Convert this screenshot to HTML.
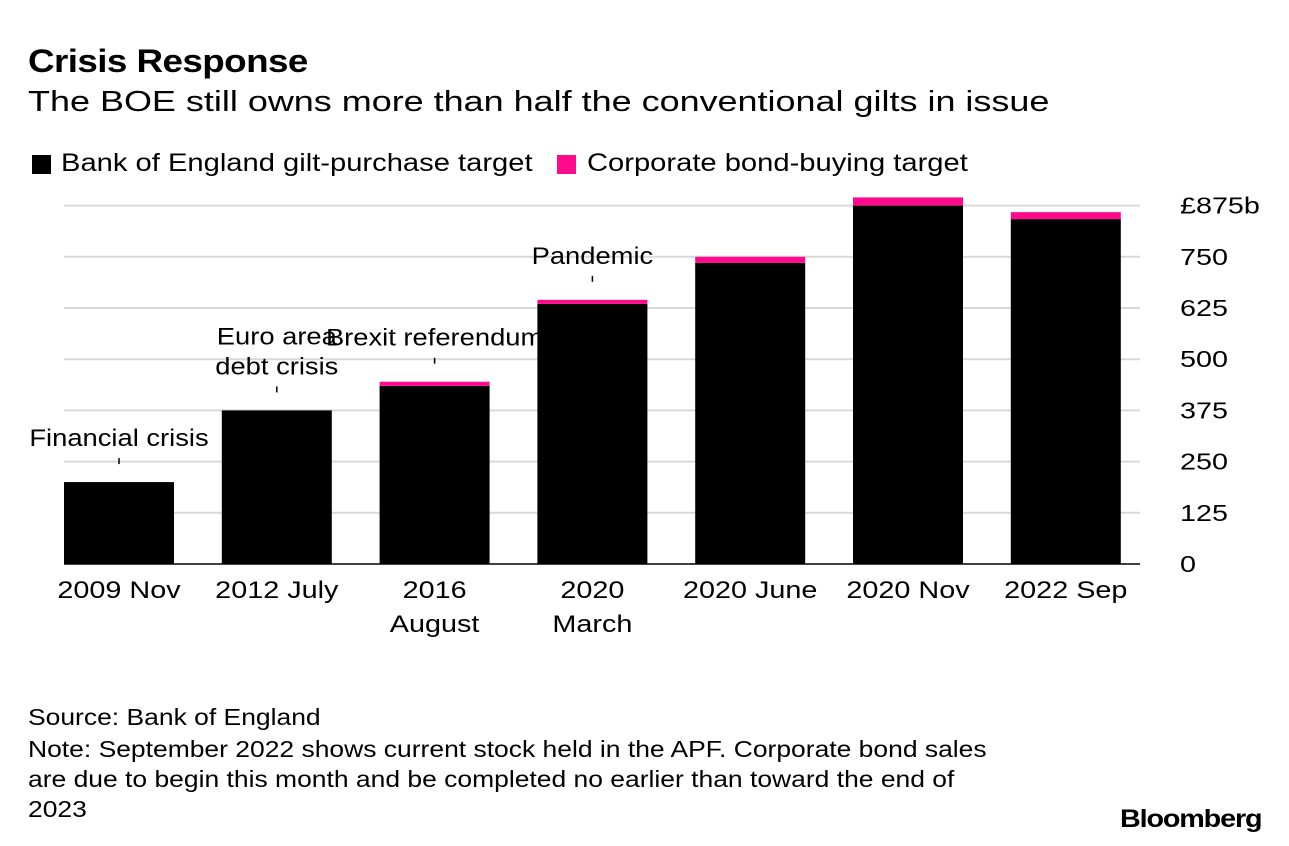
<!DOCTYPE html>
<html><head><meta charset="utf-8"><style>
body{margin:0;background:#fff;font-family:"Liberation Sans",Arial,sans-serif;}
#wrap{position:relative;width:1289px;height:846px;overflow:hidden;}
.t{position:absolute;white-space:nowrap;color:#000;transform-origin:0 0;}
</style></head><body>
<div id="wrap">
<div class="t" style="left:28px;top:43px;font-size:32px;font-weight:bold;letter-spacing:-0.5px;transform:scaleX(1.15)">Crisis Response</div>
<div class="t" style="left:28px;top:86px;font-size:29px;transform:scaleX(1.24)">The BOE still owns more than half the conventional gilts in issue</div>
<div>
<div style="position:absolute;left:32px;top:155px;width:19px;height:19px;background:#000"></div>
<div class="t" style="left:61px;top:149px;font-size:25px;transform:scaleX(1.166)">Bank of England gilt-purchase target</div>
<div style="position:absolute;left:557px;top:155px;width:19px;height:19px;background:#ff0a8c"></div>
<div class="t" style="left:587px;top:149px;font-size:25px;transform:scaleX(1.166)">Corporate bond-buying target</div>
</div>
<svg id="chart" width="1289" height="846" style="position:absolute;left:0;top:0"></svg>
<div class="t" style="left:28px;top:704px;font-size:23px;transform:scaleX(1.15)">Source: Bank of England</div>
<div class="t" style="left:28px;top:734px;font-size:23px;line-height:30px;transform:scaleX(1.15)">Note: September 2022 shows current stock held in the APF. Corporate bond sales<br>are due to begin this month and be completed no earlier than toward the end of<br>2023</div>
<div class="t" style="left:1120px;top:805px;font-size:25px;font-weight:bold;letter-spacing:-1px;transform:scaleX(1.15)">Bloomberg</div>
</div>
<script>
const categories=[["2009 Nov"],["2012 July"],["2016","August"],["2020","March"],["2020 June"],["2020 Nov"],["2022 Sep"]];
const giltValues=[200,375,435,635,735,875,842];
const corporateValues=[0,0,10,10,15,20,17];
const annotations=[["Financial crisis"],["Euro area","debt crisis"],["Brexit referendum"],["Pandemic"],[],[],[]];
const tickValues=[0,125,250,375,500,625,750,875];
const tickLabels=["0","125","250","375","500","625","750","£875b"];
const NS="http://www.w3.org/2000/svg";
const svg=document.getElementById('chart');
const y0=564,pxPer=358.4/875,x0=64,step=157.8,bw=110;
function y(v){return y0-v*pxPer;}
function xb(i){return x0+i*step;}
function mk(tag,attrs){const e=document.createElementNS(NS,tag);for(const k in attrs)e.setAttribute(k,attrs[k]);svg.appendChild(e);return e;}
function txt(s,x,yy,size,anchor,sx){
  const t=mk('text',{transform:'translate('+x+','+yy+') scale('+sx+',1)','font-size':size,'text-anchor':anchor,'font-family':'Liberation Sans, sans-serif'});
  t.textContent=s;return t;
}
tickValues.forEach((v,i)=>{
  const l=mk('line',{x1:64,x2:1140,y1:y(v),y2:y(v),stroke:v===0?'#000':'#d9d9d9','stroke-width':v===0?1.5:2});
  
  
  const t=txt(tickLabels[i],1180,y(v)+8,23,'start',1.25);
  
  
});
categories.forEach((c,i)=>{
  const x=xb(i),cx=x+bw/2;
  const g=giltValues[i],p=corporateValues[i];
  const b=mk('rect',{x:x,y:y(g),width:bw,height:y0-y(g),fill:'#000'});
  
  
  if(p>0){
    const r=mk('rect',{x:x,y:y(g+p),width:bw,height:y(g)-y(g+p),fill:'#ff0a8c'});
    
    
  }
  c.forEach((s,j)=>{
    const t=txt(s,cx,598+j*34,24,'middle',1.2);
    
    
  });
  const a=annotations[i];
  if(a.length){
    const top=y(g+p);
    const tk=mk('line',{x1:cx,x2:cx,y1:top-24,y2:top-18,stroke:'#000','stroke-width':1.5});
    
    
    a.forEach((s,j)=>{
      const t=txt(s,cx,top-36-(a.length-1-j)*30,24,'middle',1.14);
      
      
    });
  }
});
</script>
</body></html>
